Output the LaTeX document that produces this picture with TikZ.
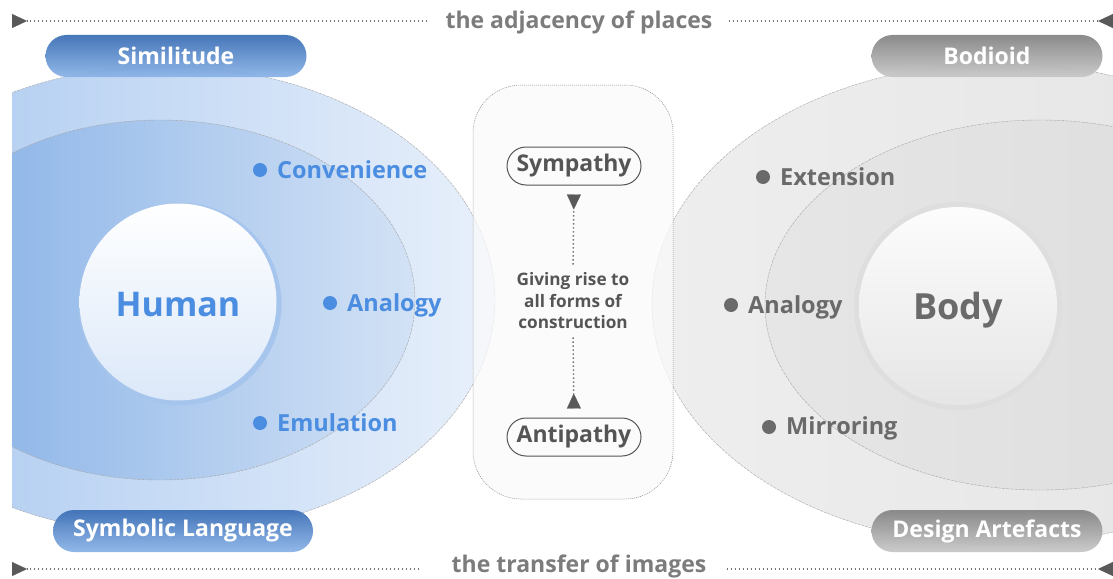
\documentclass[tikz,border=0pt]{standalone}
\usepackage{fontspec}
\setmainfont{Open Sans}
\usetikzlibrary{arrows.meta}
\definecolor{bluetxt}{HTML}{4B8DE0}
\definecolor{graytxt}{HTML}{6A6A6A}
\definecolor{midtxt}{HTML}{555555}
\definecolor{linetxt}{HTML}{7C7C7C}
\definecolor{loA}{HTML}{A6C6EF}
\definecolor{loB}{HTML}{E8F0FB}
\definecolor{liA}{HTML}{82AEE6}
\definecolor{liB}{HTML}{D3E2F5}
\definecolor{goA}{HTML}{EEEEEE}
\definecolor{goB}{HTML}{E4E4E4}
\definecolor{giA}{HTML}{E6E6E6}
\definecolor{giB}{HTML}{DCDCDC}
\definecolor{pbA}{HTML}{3D70B6}
\definecolor{pbB}{HTML}{8DB5E8}
\definecolor{pgA}{HTML}{858585}
\definecolor{pgB}{HTML}{C9C9C9}
\tikzset{
  edgeline/.style={draw=black!35, line width=0.4pt, dash pattern=on 3pt off 1pt},
  pillblue/.style={top color=pbA, bottom color=pbB, rounded corners=21pt, minimum width=261pt, minimum height=42pt, text=white, font=\fontsize{23}{26}\selectfont\bfseries, inner sep=0pt, fill opacity=0.95, text opacity=1},
  pillgray/.style={top color=pgA, bottom color=pgB, rounded corners=21pt, minimum width=231pt, minimum height=42pt, text=white, font=\fontsize{23}{26}\selectfont\bfseries, inner sep=0pt, fill opacity=0.95, text opacity=1},
  bluelabel/.style={anchor=west, text=bluetxt, font=\fontsize{23.5}{26}\selectfont\bfseries, inner sep=0pt},
  graylabel/.style={anchor=west, text=graytxt, font=\fontsize{23.5}{26}\selectfont\bfseries, inner sep=0pt},
  outpill/.style={draw=midtxt, line width=1pt, rounded corners=19pt, minimum width=134pt, minimum height=38pt, text=midtxt, font=\fontsize{23}{26}\selectfont\bfseries, inner sep=0pt},
  midbox/.style={draw=black!45, line width=0.5pt, dash pattern=on 1pt off 1pt, rounded corners=48pt, fill=black!2, fill opacity=0.75, minimum width=200pt, minimum height=414pt},
  dotline/.style={draw=black!55, line width=1.2pt, dash pattern=on 1.6pt off 2.4pt},
  tipR/.style={-{Triangle[reversed, length=15pt, width=14pt, fill=black!65, color=black!65, line width=0.2pt]}},
  sidetext/.style={text=linetxt, font=\fontsize{23}{26}\selectfont\bfseries, inner sep=0pt},
}
\begin{document}
\begin{tikzpicture}[x=1pt,y=-1pt]
\useasboundingbox (0,0) rectangle (1113,578);
\fill[white] (0,0) rectangle (1113,578);

% ---- left (blue) ----
\begin{scope}
\clip (12,0) rectangle (560,578);
\shade[left color=loA, right color=loB] (165,300) ellipse [x radius=330, y radius=234];
\draw[edgeline] (165,300) ellipse [x radius=330, y radius=234];
\shade[left color=liA, right color=liB] (160,300) ellipse [x radius=255, y radius=180];
\draw[edgeline] (160,300) ellipse [x radius=255, y radius=180];
\end{scope}
\fill[color=liA!55!liB] (180,304) circle [radius=101.5];
\shade[top color=white, bottom color=loA!40!white] (178,302) circle [radius=98.5];

% ---- right (gray) ----
\begin{scope}
\clip (560,0) rectangle (1113,578);
\shade[left color=goA, right color=goB] (1000,304) ellipse [x radius=348, y radius=241];
\draw[edgeline] (1000,304) ellipse [x radius=348, y radius=241];
\shade[left color=giA, right color=giB] (1040,305) ellipse [x radius=275, y radius=185];
\draw[edgeline] (1040,305) ellipse [x radius=275, y radius=185];
\end{scope}
\fill[color=black!13] (958,306) circle [radius=104];
\shade[top color=black!1, bottom color=black!10] (958,306) circle [radius=99];

% ---- centre box ----
\node[midbox] (mid) at (573,292) {};

% ---- circle labels ----
\node[text=bluetxt, font=\fontsize{34}{40}\selectfont\bfseries, inner sep=0pt] (human) at (178,305) {Human};
\node[text=graytxt, font=\fontsize{36}{42}\selectfont\bfseries, inner sep=0pt] (body) at (958,310) {Body};

% ---- dotted items ----
\node[bluelabel] (conv) at (277,170) {Convenience};
\node[bluelabel] (anaL) at (347,305) {Analogy};
\node[bluelabel] (emul) at (277,423) {Emulation};
\fill[bluetxt] ([xshift=-17pt]conv.west) circle [radius=7];
\fill[bluetxt] ([xshift=-17pt,yshift=2pt]anaL.west) circle [radius=7];
\fill[bluetxt] ([xshift=-17pt]emul.west) circle [radius=7];
\node[graylabel] (ext) at (780,177) {Extension};
\node[graylabel] (anaR) at (748,307) {Analogy};
\node[graylabel] (mirr) at (786,428) {Mirroring};
\fill[graytxt] ([xshift=-17pt]ext.west) circle [radius=7];
\fill[graytxt] ([xshift=-17pt,yshift=2pt]anaR.west) circle [radius=7];
\fill[graytxt] ([xshift=-17pt,yshift=1pt]mirr.west) circle [radius=7];

% ---- pills ----
\node[pillblue] (simil) at (176,56) {Similitude};
\node[pillblue, minimum width=260pt] (symb) at (183,531) {Symbolic Language};
\node[pillgray] (bodi) at (987,56) {Bodioid};
\node[pillgray] (desi) at (987,531) {Design Artefacts};

% ---- centre content ----
\node[outpill] (symp) at (574,166) {Sympathy};
\node[outpill] (anti) at (574,437) {Antipathy};
\node[text=midtxt, font=\fontsize{17.2}{21.5}\selectfont\bfseries, align=center, inner sep=0pt] (give) at (573,301) {Giving rise to\\all forms of\\construction};
\draw[dotline, line width=1.4pt, tipR, shorten <=8pt, shorten >=9pt] (give.north) -- (symp.south);
\draw[dotline, line width=1.4pt, tipR, shorten <=8pt, shorten >=9pt] (give.south) -- (anti.north);

% ---- top / bottom lines ----
\node[sidetext, anchor=base] (adj) at (579,29) {the adjacency of places};
\node[sidetext, anchor=base] (tra) at (579,572) {the transfer of images};
\coordinate (tl) at (12,21);
\coordinate (tr) at (1113,21);
\coordinate (bl) at (12,569);
\coordinate (br) at (1113,569);
\draw[dotline, tipR, shorten <=18pt] (adj.west |- tl) -- (tl);
\draw[dotline, tipR, shorten <=16pt] (adj.east |- tr) -- (tr);
\draw[dotline, tipR, shorten <=32pt] (tra.west |- bl) -- (bl);
\draw[dotline, tipR, shorten <=20pt] (tra.east |- br) -- (br);
\end{tikzpicture}
\end{document}
